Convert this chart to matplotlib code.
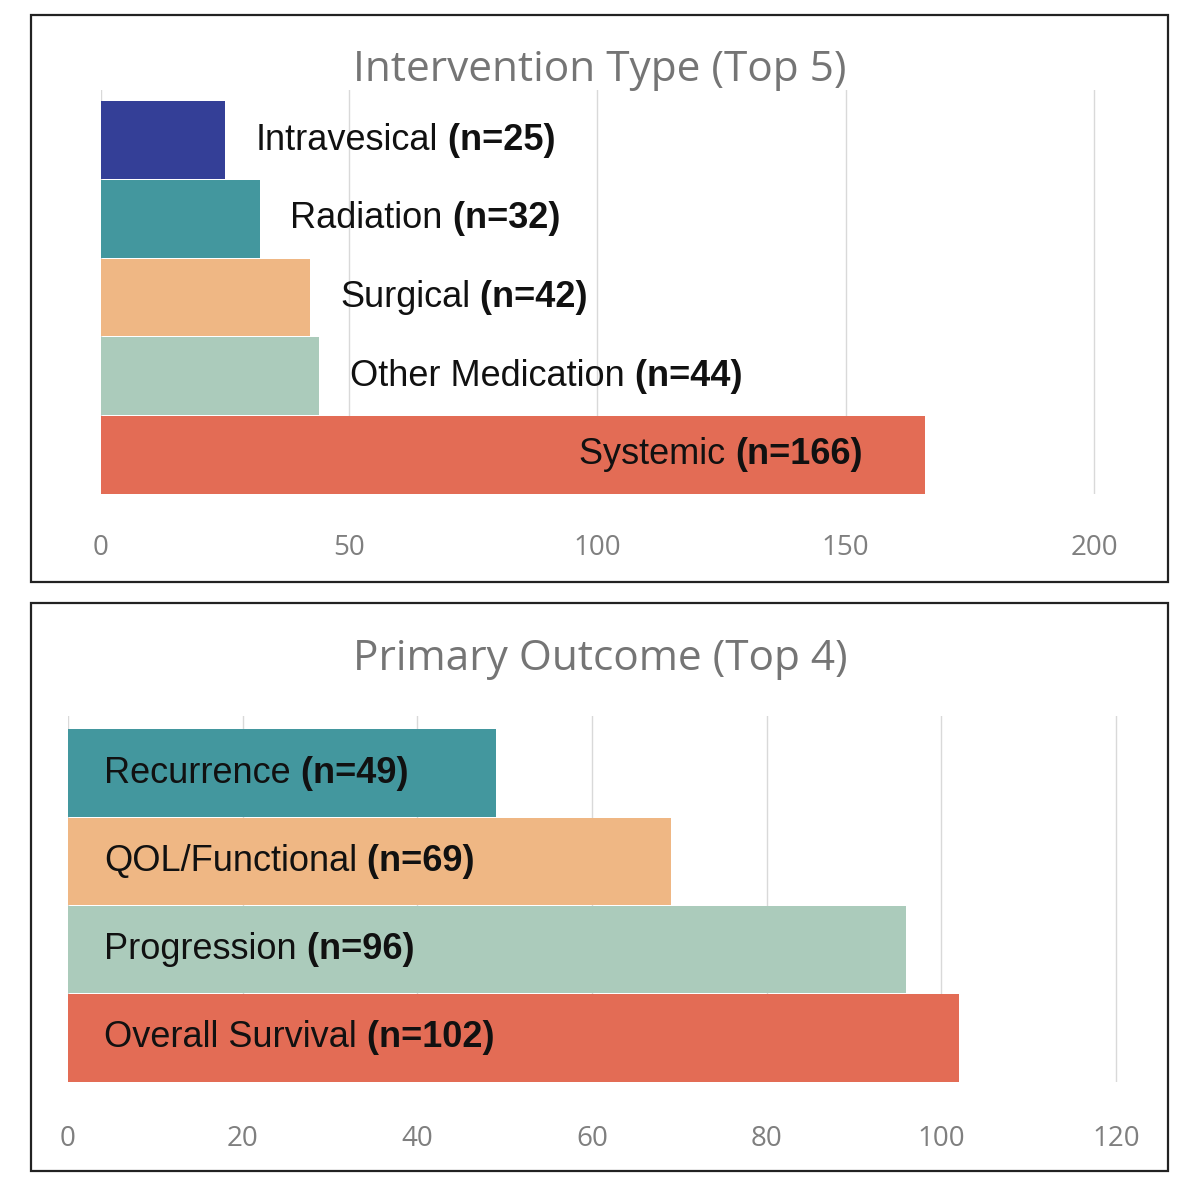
import matplotlib.pyplot as plt
from matplotlib.patches import Rectangle

# Data
int_names = ['Intravesical', 'Radiation', 'Surgical', 'Other Medication', 'Systemic']
int_counts = [25, 32, 42, 44, 166]
int_colors = ['#343f97', '#43979e', '#efb784', '#abcbbb', '#e36c55']

out_names = ['Recurrence', 'QOL/Functional', 'Progression', 'Overall Survival']
out_counts = [49, 69, 96, 102]
out_colors = ['#43979e', '#efb784', '#abcbbb', '#e36c55']

TITLE_FONT = 'Open Sans'
LABEL_FONT = 'Liberation Sans'
TICK_COLOR = '#7f7f7f'
GRID_COLOR = '#d9d9d9'
LSIZE = 26
XPAD = 1.002  # small headroom so the last gridline is not clipped


def label(ax, x, y, name, n, dx, align='left'):
    # name in regular weight, count in bold, set side by side
    if align == 'left':
        t = ax.annotate(name, xy=(x, y), xytext=(dx, 0), textcoords='offset points',
                        ha='left', va='center', fontsize=LSIZE, family=LABEL_FONT,
                        color='#111111')
        ax.annotate(' (n=%d)' % n, xy=(1, 0), xycoords=t, ha='left', va='bottom',
                    fontsize=LSIZE, family=LABEL_FONT, fontweight='bold', color='#111111')
    else:
        t = ax.annotate('(n=%d)' % n, xy=(x, y), xytext=(dx, 0), textcoords='offset points',
                        ha='right', va='center', fontsize=LSIZE, family=LABEL_FONT,
                        fontweight='bold', color='#111111')
        ax.annotate(name + ' ', xy=(0, 0), xycoords=t, ha='right', va='bottom',
                    fontsize=LSIZE, family=LABEL_FONT, color='#111111')


def style_axes(ax, xmax, step, pad):
    ax.set_xlim(0, xmax * XPAD)
    ax.set_xticks(range(0, xmax + 1, step))
    ax.set_yticks([])
    for s in ax.spines.values():
        s.set_visible(False)
    ax.grid(axis='x', color=GRID_COLOR, linewidth=1)
    ax.set_axisbelow(True)
    ax.tick_params(axis='x', length=0, pad=pad, labelsize=20, labelcolor=TICK_COLOR)
    for lab in ax.get_xticklabels():
        lab.set_family(TITLE_FONT)


fig = plt.figure(figsize=(12, 11.92), dpi=100)

# panel frames
for (x0, y0, x1, y1) in [(31, 15, 1168, 582), (31, 603, 1168, 1171)]:
    fig.patches.append(Rectangle((x0 / 1200, 1 - y1 / 1192), (x1 - x0) / 1200, (y1 - y0) / 1192,
                                 transform=fig.transFigure, fill=False,
                                 edgecolor='#222222', linewidth=1.6))

# top panel
ax1 = fig.add_axes([101 / 1200, 1 - 494 / 1192, 993 * XPAD / 1200, 404 / 1192])
ax1.barh(range(len(int_names)), int_counts, height=0.99, color=int_colors)
ax1.set_ylim(4.5, -0.64)
style_axes(ax1, 200, 50, 29)
for i, (nm, n) in enumerate(zip(int_names, int_counts)):
    if n > 100:
        label(ax1, n, i, nm, n, -45, align='right')
    else:
        label(ax1, n, i, nm, n, 22)
fig.text(600 / 1200, 1 - 70 / 1192, 'Intervention Type (Top 5)', ha='center', va='center',
         fontsize=30.5, color='#757575', family=TITLE_FONT)

# bottom panel
ax2 = fig.add_axes([68 / 1200, 1 - 1082 / 1192, 1048 * XPAD / 1200, 366 / 1192])
ax2.barh(range(len(out_names)), out_counts, height=0.99, color=out_colors)
ax2.set_ylim(3.5, -0.647)
style_axes(ax2, 120, 20, 31)
for i, (nm, n) in enumerate(zip(out_names, out_counts)):
    label(ax2, 0, i, nm, n, 26)
fig.text(600 / 1200, 1 - 659 / 1192, 'Primary Outcome (Top 4)', ha='center', va='center',
         fontsize=30.5, color='#757575', family=TITLE_FONT)

fig.savefig('out.png', dpi=100)
